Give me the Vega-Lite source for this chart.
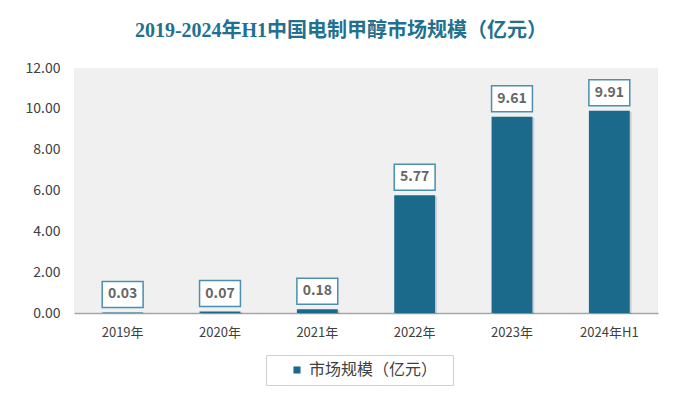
{
  "$schema": "https://vega.github.io/schema/vega-lite/v6.json",
  "width": 584,
  "height": 245,
  "autosize": {"type": "none"},
  "padding": {"left": 74, "top": 68, "right": 27, "bottom": 91},
  "background": "#ffffff",
  "title": {
    "text": "2019-2024年H1中国电制甲醇市场规模（亿元）",
    "font": "Liberation Serif, Noto Sans CJK SC",
    "fontSize": 20,
    "fontWeight": "bold",
    "color": "#22708f",
    "anchor": "middle",
    "dx": -25,
    "offset": 20
  },
  "data": {
    "values": [
      {"year": "2019年", "value": 0.03, "series": "市场规模（亿元）"},
      {"year": "2020年", "value": 0.07, "series": "市场规模（亿元）"},
      {"year": "2021年", "value": 0.18, "series": "市场规模（亿元）"},
      {"year": "2022年", "value": 5.77, "series": "市场规模（亿元）"},
      {"year": "2023年", "value": 9.61, "series": "市场规模（亿元）"},
      {"year": "2024年H1", "value": 9.91, "series": "市场规模（亿元）"}
    ]
  },
  "encoding": {
    "x": {
      "field": "year",
      "type": "nominal",
      "sort": null,
      "scale": {"paddingInner": 0.58, "paddingOuter": 0.29},
      "axis": {
        "title": null,
        "labelAngle": 0,
        "labelFont": "Noto Sans CJK SC",
        "labelFontSize": 13,
        "labelColor": "#404040",
        "labelPadding": 13,
        "ticks": false,
        "domainColor": "#a6a6a6",
        "domainWidth": 1.5
      }
    },
    "y": {
      "field": "value",
      "type": "quantitative",
      "scale": {"domain": [0, 12]},
      "axis": {
        "title": null,
        "values": [0, 2, 4, 6, 8, 10, 12],
        "format": ".2f",
        "labelFont": "Noto Sans CJK SC",
        "labelFontSize": 14,
        "labelColor": "#404040",
        "labelPadding": 14,
        "ticks": false,
        "domain": false,
        "grid": false
      }
    }
  },
  "layer": [
    {
      "mark": {"type": "bar", "color": "#000000", "opacity": 0.12, "xOffset": 2, "yOffset": 1},
      "encoding": {}
    },
    {
      "mark": {"type": "bar"},
      "encoding": {
        "color": {
          "field": "series",
          "type": "nominal",
          "scale": {"range": ["#1b6a8c"]},
          "legend": {
            "orient": "none",
            "legendX": 192,
            "legendY": 287,
            "title": "x",
            "titleOrient": "right",
            "titleFontSize": 6,
            "titleOpacity": 0,
            "titlePadding": 5,
            "padding": 7,
            "strokeColor": "#d0d0d0",
            "fillColor": "#ffffff",
            "symbolType": "square",
            "symbolSize": 50,
            "symbolOffset": 16,
            "labelOffset": 4,
            "labelFont": "Noto Sans CJK SC",
            "labelFontSize": 16,
            "labelColor": "#404040"
          }
        }
      }
    },
    {
      "mark": {"type": "rect", "fill": "#ffffff", "stroke": "#4a8fae", "strokeWidth": 1.5, "yOffset": -31, "y2Offset": -5},
      "encoding": {"y2": {"field": "value"}}
    },
    {
      "mark": {"type": "text", "font": "Noto Sans CJK SC", "fontSize": 14, "fontWeight": "bold", "color": "#666666", "baseline": "middle", "yOffset": -18},
      "encoding": {"text": {"field": "value", "type": "quantitative", "format": ".2f"}}
    }
  ],
  "config": {
    "view": {"fill": "#f0f0f0", "stroke": null}
  }
}
